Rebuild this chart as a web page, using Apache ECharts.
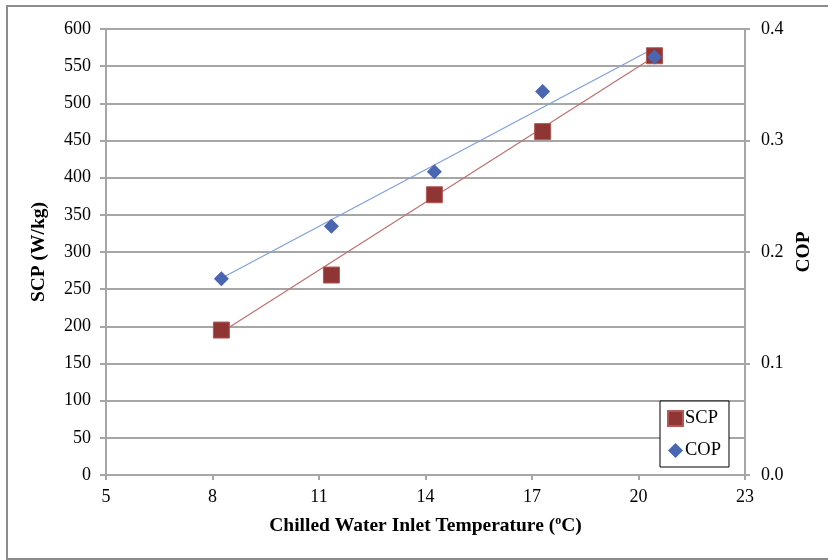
<!DOCTYPE html>
<html>
<head>
<meta charset="utf-8">
<script src="https://cdn.jsdelivr.net/npm/echarts@6/dist/echarts.min.js"></script>
<style>
  html, body { margin: 0; padding: 0; background: #fff; }
  #chart { width: 828px; height: 560px; }
</style>
</head>
<body>
<div id="chart"></div>
<script>
// Chilled water inlet temperature (°C)
var temperature = [8.25, 11.35, 14.25, 17.3, 20.45];
// Specific cooling power (W/kg)
var scpValues = [195, 269, 377, 462, 564];
// Coefficient of performance
var copValues = [0.176, 0.223, 0.272, 0.344, 0.375];
// Trend line end points [temperature, value]
var scpTrend = [[8.25, 192], [20.45, 563]];
var copTrend = [[8.25, 0.1765], [20.45, 0.383]];
// Axis ranges
var xRange = { min: 5, max: 23, step: 3 };
var scpRange = { min: 0, max: 600, step: 50 };
var copRange = { min: 0, max: 0.4, step: 0.1 };

var serif = '"Liberation Serif", "Times New Roman", serif';
var gridGray = '#a6a6a6';

function pairs(xs, ys) {
  return xs.map(function (x, i) { return [x, ys[i]]; });
}

var chart = echarts.init(document.getElementById('chart'), null, { renderer: 'canvas' });

chart.setOption({
  backgroundColor: '#fff',
  animation: false,
  graphic: [{
    type: 'rect',
    shape: { x: 7, y: 6, width: 830, height: 553 },
    style: { fill: 'none', stroke: '#8c8c8c', lineWidth: 2 },
    silent: true
  }],
  grid: { left: 106, right: 83, top: 29, bottom: 85, containLabel: false },
  legend: {
    orient: 'vertical',
    left: 660,
    top: 401,
    padding: [8, 8, 7, 7],
    itemGap: 13,
    itemWidth: 15,
    itemHeight: 15,
    borderColor: '#000',
    borderWidth: 1,
    backgroundColor: '#fff',
    textStyle: { fontFamily: serif, fontSize: 18.5, color: '#000', padding: [0, 0, 0, -3] },
    data: [
      { name: 'SCP', icon: 'rect' },
      { name: 'COP', icon: 'diamond' }
    ]
  },
  xAxis: {
    type: 'value',
    min: xRange.min,
    max: xRange.max,
    interval: xRange.step,
    name: '{t|Chilled Water Inlet Temperature (}{s|o}{t|C)}',
    nameLocation: 'middle',
    nameGap: 40,
    nameTextStyle: {
      rich: {
        t: { fontFamily: serif, fontSize: 19.5, fontWeight: 'bold', color: '#000' },
        s: { fontFamily: serif, fontSize: 12, fontWeight: 'bold', color: '#000', verticalAlign: 'top', padding: [0, 0, 9, 0] }
      }
    },
    axisLine: { show: true, onZero: false, lineStyle: { color: gridGray, width: 2 } },
    axisTick: { show: true, length: 5, lineStyle: { color: gridGray, width: 2 } },
    axisLabel: { fontFamily: serif, fontSize: 18, color: '#000', margin: 13 },
    splitLine: { show: false }
  },
  yAxis: [{
    type: 'value',
    position: 'left',
    min: scpRange.min,
    max: scpRange.max,
    interval: scpRange.step,
    name: 'SCP (W/kg)',
    nameLocation: 'middle',
    nameGap: 57,
    nameTextStyle: { fontFamily: serif, fontSize: 19.5, fontWeight: 'bold', color: '#000' },
    axisLine: { show: true, lineStyle: { color: gridGray, width: 2 } },
    axisTick: { show: true, length: 6, lineStyle: { color: gridGray, width: 2 } },
    axisLabel: { fontFamily: serif, fontSize: 18, color: '#000', margin: 15 },
    splitLine: { show: true, lineStyle: { color: gridGray, width: 2 } }
  }, {
    type: 'value',
    position: 'right',
    min: copRange.min,
    max: copRange.max,
    interval: copRange.step,
    name: 'COP',
    nameLocation: 'middle',
    nameGap: 49,
    nameRotate: 90,
    nameTextStyle: { fontFamily: serif, fontSize: 19.5, fontWeight: 'bold', color: '#000' },
    axisLine: { show: true, lineStyle: { color: gridGray, width: 2 } },
    axisTick: { show: true, length: 5, lineStyle: { color: gridGray, width: 2 } },
    axisLabel: {
      fontFamily: serif, fontSize: 18, color: '#000', margin: 16,
      formatter: function (v) { return v.toFixed(1); }
    },
    splitLine: { show: false }
  }],
  series: [{
    name: 'SCP trend',
    type: 'line',
    yAxisIndex: 0,
    data: scpTrend,
    showSymbol: false,
    symbol: 'none',
    lineStyle: { color: '#c0706e', width: 1.2 },
    silent: true,
    z: 2
  }, {
    name: 'COP trend',
    type: 'line',
    yAxisIndex: 1,
    data: copTrend,
    showSymbol: false,
    symbol: 'none',
    lineStyle: { color: '#7f9fdc', width: 1.2 },
    silent: true,
    z: 2
  }, {
    name: 'SCP',
    type: 'scatter',
    yAxisIndex: 0,
    data: pairs(temperature, scpValues),
    symbol: 'rect',
    symbolSize: 16,
    itemStyle: { color: '#8f3533', borderColor: '#b25856', borderWidth: 1, opacity: 1 },
    z: 3
  }, {
    name: 'COP',
    type: 'scatter',
    yAxisIndex: 1,
    data: pairs(temperature, copValues),
    symbol: 'diamond',
    symbolSize: 15,
    itemStyle: { color: '#4a66b0', opacity: 1 },
    z: 4
  }]
});
</script>
</body>
</html>
